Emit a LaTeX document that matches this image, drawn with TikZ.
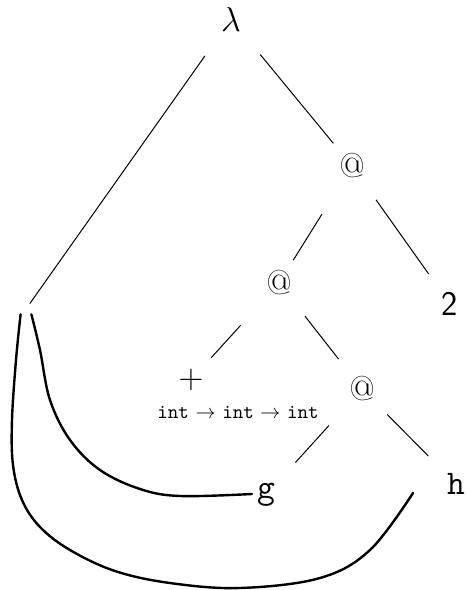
\documentclass[tikz,border=0pt]{standalone}
\usetikzlibrary{calc}
\begin{document}
\begin{tikzpicture}[x=0.5pt,y=-0.5pt,
  lbl/.style={inner sep=0pt, anchor=center},
  edge/.style={line width=0.5pt},
  bind/.style={line width=1.2pt, line join=round, line cap=round},
  leafpt/.style={inner sep=0pt, minimum width=5pt, minimum height=5pt},
  appnode/.style={lbl, font=\LARGE}]
\useasboundingbox (0,0) rectangle (466,590);
\node[lbl,font=\LARGE] (lam) at (231,19) {$\lambda$};
\node[leafpt] (leaf) at (26,309) {};
\node[appnode] (app1) at (352,166) {@};
\node[lbl,font=\sffamily\LARGE] (two) at (450,304) {2};
\node[appnode] (app2) at (279,283) {@};
\node[lbl,font=\LARGE] (plus) at (191,380) {$+$};
\node[lbl] (ptype) at (238,413) {\texttt{int} $\rightarrow$ \texttt{int} $\rightarrow$ \texttt{int}};
\node[appnode] (app3) at (362,389) {@};
\node[lbl,font=\LARGE\ttfamily] (g) at (266,495) {g};
\node[lbl,font=\LARGE\ttfamily] (h) at (456,484) {h};
\coordinate (gend) at (252,494);
\coordinate (hend) at (413,493);

\draw[edge, shorten <=15pt] (lam) -- (leaf);
\draw[edge, shorten <=15pt, shorten >=6.5pt] (lam) -- (app1);
\draw[edge, shorten <=21pt, shorten >=6pt] (app1) -- (app2);
\draw[edge, shorten <=13pt, shorten >=11pt] (app1) -- (two);
\draw[edge, shorten <=20pt, shorten >=7.5pt] (app2) -- (plus);
\draw[edge, shorten <=13pt, shorten >=11pt] (app2) -- (app3);
\draw[edge, shorten <=16pt, shorten >=15pt] (app3) -- (g);
\draw[edge, shorten <=9pt, shorten >=13pt] (app3) -- (h);

\draw[bind] plot[smooth, tension=0.6] coordinates {(leaf.south east) (40,350) (50,400) (70,440) (100,470) (140,489) (180,496) (gend)};
\draw[bind] plot[smooth, tension=0.6] coordinates {(leaf.south west) (16,360) (12,420) (13,465) (22,500) (40,527) (70,550) (115,571) (170,583) (240,588) (320,578) (370,550) (hend)};
\end{tikzpicture}
\end{document}
